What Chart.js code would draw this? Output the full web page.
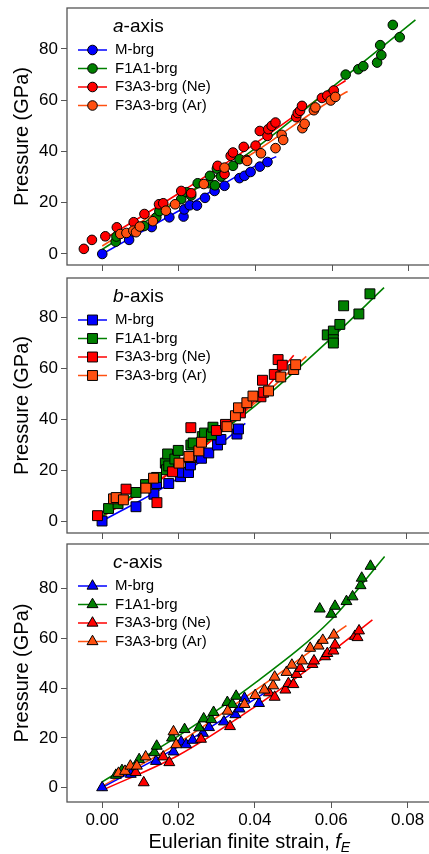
<!DOCTYPE html>
<html>
<head>
<meta charset="utf-8">
<script src="https://cdn.jsdelivr.net/npm/chart.js@4"></script>
<style>
body { margin: 0; width: 429px; height: 854px; overflow: hidden; background: #fff; position: relative; }
canvas { position: absolute; left: 0; }
</style>
</head>
<body>
<canvas id="panelA" width="445" height="272" style="top:0px"></canvas>
<canvas id="panelB" width="445" height="272" style="top:270px"></canvas>
<canvas id="panelC" width="445" height="318" style="top:536px"></canvas>
<script>
// series names and colours (same for every panel)
const seriesNames = ['M-brg', 'F1A1-brg', 'F3A3-brg (Ne)', 'F3A3-brg (Ar)'];
const seriesColors = ['#0000ff', '#008000', '#ff0000', '#ff5010'];
const xTicks = [0, 0.02, 0.04, 0.06, 0.08];
const yTicks = [0, 20, 40, 60, 80];

// a-axis: [f_E, P]
const aM = [[0,0],[0.0070,5.5],[0.0129,10.5],[0.0175,14.3],[0.0212,14.6],[0.0214,17.4],[0.0228,19.0],[0.0247,18.9],[0.0268,21.9],[0.0293,24.6],[0.0319,26.6],[0.0358,29.6],[0.0371,30.5],[0.0387,32.0],[0.0411,34.1],[0.0431,35.9]];
const aF1 = [[0.0035,4.8],[0.0037,6.8],[0.0109,10.9],[0.0141,14.3],[0.0149,16.7],[0.0206,21.4],[0.0220,24.1],[0.0232,22.8],[0.0249,27.6],[0.0279,27.6],[0.0281,30.5],[0.0294,26.8],[0.0299,33.3],[0.0310,30.2],[0.0341,34.4],[0.0358,37.0],[0.0635,70.0],[0.0668,72.1],[0.0681,73.3],[0.0717,74.7],[0.0728,77.6],[0.0725,81.5],[0.0758,89.4],[0.0776,84.6]];
const aNe = [[-0.0048,2.0],[-0.0027,5.5],[0.0008,6.9],[0.0038,10.4],[0.0082,12.4],[0.0110,15.6],[0.0148,19.4],[0.0159,19.8],[0.0206,24.6],[0.0232,23.7],[0.0301,34.4],[0.0319,31.2],[0.0335,38.3],[0.0341,39.6],[0.0369,41.8],[0.0376,36.7],[0.0400,42.3],[0.0411,48.0],[0.0431,46.1],[0.0433,48.7],[0.0442,50.0],[0.0452,51.3],[0.0506,53.4],[0.0510,55.0],[0.0516,55.9],[0.0521,57.8],[0.0573,60.9],[0.0587,61.8],[0.0604,63.8]];
const aAr = [[0.0047,7.8],[0.0063,8.2],[0.0081,9.1],[0.0088,8.5],[0.0098,10.7],[0.0132,12.8],[0.0166,16.9],[0.0190,19.4],[0.0265,27.3],[0.0319,33.7],[0.0378,36.3],[0.0414,39.3],[0.0452,41.3],[0.0468,46.5],[0.0472,44.5],[0.0522,49.1],[0.0528,50.8],[0.0552,56.1],[0.0556,57.2],[0.0596,59.9],[0.0608,61.3]];
const aFitM = [[0,0],[0.02,16.9],[0.04,34.4],[0.0454,38.0]];
const aFitF1 = [[0,1.8],[0.02,21.1],[0.04,41.3],[0.06,65.1],[0.0817,91.4]];
const aFitNe = [[0,5.3],[0.02,23.7],[0.04,43.2],[0.06,64.3],[0.0635,67.7]];
const aFitAr = [[0,3.1],[0.02,21.7],[0.04,40.0],[0.06,60.2],[0.064,63.4]];

// b-axis
const bM = [[0,0],[0.0089,5.6],[0.0136,10.5],[0.0143,14.7],[0.0175,14.7],[0.0206,17.4],[0.0211,19.1],[0.0227,19.0],[0.0232,22.0],[0.0261,24.6],[0.0280,26.7],[0.0303,29.8],[0.0312,32.0],[0.0354,34.1],[0.0358,36.1]];
const bF1 = [[0.0017,4.9],[0.0042,6.8],[0.0089,11.2],[0.0114,14.3],[0.0143,17.1],[0.0166,22.7],[0.0169,20.1],[0.0175,21.6],[0.0172,26.3],[0.0191,24.3],[0.0200,27.7],[0.0233,29.8],[0.0239,30.6],[0.0263,33.1],[0.0269,34.5],[0.0287,33.9],[0.0291,36.8],[0.0591,73.0],[0.0607,74.5],[0.0607,71.1],[0.0607,69.8],[0.0624,77.1],[0.0634,84.4],[0.0674,81.2],[0.0703,89.1]];
const bNe = [[-0.0012,2.1],[0.0063,12.5],[0.0144,7.2],[0.0185,19.3],[0.0231,24.9],[0.0233,36.6],[0.0300,35.5],[0.0324,37.9],[0.0363,42.4],[0.0417,48.7],[0.0424,50.5],[0.0421,55.2],[0.0452,57.5],[0.0462,63.3],[0.0473,61.1]];
const bAr = [[0.0030,8.7],[0.0037,9.2],[0.0056,8.3],[0.0115,12.9],[0.0135,16.8],[0.0202,22.7],[0.0228,25.3],[0.0254,27.5],[0.0261,30.9],[0.0328,37.0],[0.0350,41.3],[0.0358,44.4],[0.0380,46.4],[0.0396,49.0],[0.0437,51.0],[0.0469,56.5],[0.0503,59.4],[0.0508,61.3]];
const bFitM = [[0,0],[0.02,16.8],[0.0376,38.3]];
const bFitF1 = [[0,1.8],[0.02,23.0],[0.04,45.0],[0.06,71.5],[0.074,91.5]];
const bFitNe = [[0,1.6],[0.02,21.1],[0.04,47.1],[0.0503,65.0]];
const bFitAr = [[0,2.0],[0.02,21.4],[0.04,46.1],[0.0536,64.6]];

// c-axis
const cM = [[0,0],[0.0075,5.4],[0.0141,10.6],[0.0187,14.4],[0.0207,18.4],[0.0220,17.3],[0.0237,19.1],[0.0264,21.9],[0.0280,24.2],[0.0319,26.5],[0.0349,29.4],[0.0360,31.7],[0.0373,36.0],[0.0411,33.9]];
const cF1 = [[0.0036,5.0],[0.0052,6.9],[0.0097,11.3],[0.0137,14.1],[0.0143,16.7],[0.0183,20.0],[0.0216,23.4],[0.0254,24.1],[0.0266,27.7],[0.0286,27.4],[0.0292,30.3],[0.0328,34.3],[0.0341,33.5],[0.0351,36.8],[0.0570,71.9],[0.0600,69.8],[0.0610,73.0],[0.0640,74.9],[0.0656,76.8],[0.0677,81.3],[0.0680,84.3],[0.0703,89.1]];
const cNe = [[0.0088,6.1],[0.0109,2.0],[0.0160,12.4],[0.0176,10.1],[0.0259,19.5],[0.0335,24.6],[0.0437,38.2],[0.0452,36.4],[0.0480,39.3],[0.0488,41.9],[0.0501,41.5],[0.0509,45.6],[0.0519,48.0],[0.0551,49.6],[0.0555,51.0],[0.0584,52.7],[0.0590,54.0],[0.0606,55.0],[0.0610,57.4],[0.0662,60.9],[0.0669,60.4],[0.0673,63.1]];
const cAr = [[0.0043,5.8],[0.0060,6.6],[0.0074,8.7],[0.0091,8.7],[0.0114,12.4],[0.0187,22.5],[0.0194,17.3],[0.0329,30.8],[0.0373,33.5],[0.0401,37.1],[0.0425,39.3],[0.0448,41.0],[0.0452,44.5],[0.0483,46.4],[0.0497,49.3],[0.0524,51.0],[0.0545,56.1],[0.0567,57.0],[0.0578,59.3],[0.0607,61.4]];
const cFitM = [[0,0],[0.02,16.5],[0.0424,37.9]];
const cFitF1 = [[0,2.3],[0.02,20.8],[0.04,42.0],[0.06,67.5],[0.074,93.0]];
const cFitNe = [[0,-1.1],[0.02,13.0],[0.04,32.5],[0.06,54.5],[0.0708,67.5]];
const cFitAr = [[0,0.5],[0.02,18.0],[0.04,39.0],[0.06,60.8],[0.064,65.2]];

const FONT = '"Liberation Sans", Arial, sans-serif';
const FRAME = '#555';

function toXY(arr) {
    return arr.map(p => ({ x: p[0], y: p[1] }));
}

// box around the plot area
const framePlugin = {
    id: 'frame',
    afterDatasetsDraw(chart) {
        const a = chart.chartArea, ctx = chart.ctx;
        ctx.save();
        ctx.strokeStyle = FRAME;
        ctx.lineWidth = 1.3;
        ctx.strokeRect(a.left, a.top, a.right - a.left, a.bottom - a.top);
        ctx.restore();
    }
};

function drawMarker(ctx, style, r, x, y) {
    if (Chart.helpers && Chart.helpers.drawPoint) {
        Chart.helpers.drawPoint(ctx, { pointStyle: style, radius: r, borderWidth: 1, rotation: 0 }, x, y);
        return;
    }
    ctx.beginPath();
    ctx.arc(x, y, r, 0, Math.PI * 2);
    ctx.fill();
    ctx.stroke();
}

// legend with line + marker, title with italic letter
const axisLegendPlugin = {
    id: 'axisLegend',
    afterDraw(chart, args, opts) {
        const ctx = chart.ctx, a = chart.chartArea;
        const x0 = a.left, y0 = a.top;
        ctx.save();
        ctx.textBaseline = 'middle';
        ctx.textAlign = 'left';
        ctx.fillStyle = '#000';
        ctx.font = 'italic 19px ' + FONT;
        ctx.fillText(opts.letter, x0 + 46, y0 + 19);
        const w = ctx.measureText(opts.letter).width;
        ctx.font = '19px ' + FONT;
        ctx.fillText('-axis', x0 + 46 + w, y0 + 19);

        seriesNames.forEach((name, i) => {
            const y = y0 + 42 + i * 18.5;
            ctx.strokeStyle = seriesColors[i];
            ctx.lineWidth = 1.5;
            ctx.beginPath();
            ctx.moveTo(x0 + 11, y);
            ctx.lineTo(x0 + 40, y);
            ctx.stroke();
            ctx.fillStyle = seriesColors[i];
            ctx.strokeStyle = '#000';
            ctx.lineWidth = 1;
            drawMarker(ctx, opts.marker, opts.radius, x0 + 25.5, y);
            ctx.fillStyle = '#000';
            ctx.font = '15px ' + FONT;
            ctx.fillText(name, x0 + 48, y);
        });
        ctx.restore();
    }
};

// x title with italic f and subscript E
const xTitlePlugin = {
    id: 'xTitle',
    afterDraw(chart, args, opts) {
        if (!opts.show) return;
        const ctx = chart.ctx, a = chart.chartArea;
        const main = 'Eulerian finite strain, ';
        ctx.save();
        ctx.textBaseline = 'alphabetic';
        ctx.fillStyle = '#000';
        ctx.font = '20px ' + FONT;
        const w1 = ctx.measureText(main).width;
        ctx.font = 'italic 20px ' + FONT;
        const w2 = ctx.measureText('f').width;
        ctx.font = 'italic 14px ' + FONT;
        const w3 = ctx.measureText('E').width;
        const total = w1 + w2 + w3;
        let x = (a.left + a.right) / 2 - total / 2 - 3;
        const base = opts.baseline;
        ctx.font = '20px ' + FONT;
        ctx.fillText(main, x, base);
        x += w1;
        ctx.font = 'italic 20px ' + FONT;
        ctx.fillText('f', x, base);
        x += w2;
        ctx.font = 'italic 14px ' + FONT;
        ctx.fillText('E', x, base + 4);
        ctx.restore();
    }
};

function makePanel(id, cfg) {
    const series = [cfg.m, cfg.f1, cfg.ne, cfg.ar];
    const fits = [cfg.fitM, cfg.fitF1, cfg.fitNe, cfg.fitAr];
    const datasets = [];
    series.forEach((s, i) => {
        datasets.push({
            label: seriesNames[i],
            data: toXY(s),
            backgroundColor: seriesColors[i],
            borderColor: '#000',
            borderWidth: 1,
            pointStyle: cfg.marker,
            pointRadius: cfg.radius,
            pointHoverRadius: cfg.radius,
            showLine: false,
            order: 4 - i
        });
    });
    fits.forEach((s, i) => {
        datasets.push({
            label: seriesNames[i] + ' fit',
            data: toXY(s),
            borderColor: seriesColors[i],
            borderWidth: 1.6,
            pointRadius: 0,
            showLine: true,
            cubicInterpolationMode: 'monotone',
            order: 10
        });
    });

    const canvas = document.getElementById(id);
    const xAxisHeight = canvas.height - cfg.padTop - cfg.plotHeight;

    new Chart(canvas.getContext('2d'), {
        type: 'scatter',
        data: { datasets: datasets },
        options: {
            responsive: false,
            animation: false,
            events: [],
            layout: { padding: { top: cfg.padTop, right: 5, left: 0, bottom: 0 } },
            plugins: {
                legend: { display: false },
                tooltip: { enabled: false },
                axisLegend: { letter: cfg.letter, marker: cfg.marker, radius: cfg.radius },
                xTitle: { show: cfg.showX, baseline: canvas.height - 6 }
            },
            scales: {
                x: {
                    type: 'linear',
                    min: -0.0092,
                    max: 0.0879,
                    border: { display: false },
                    grid: { drawOnChartArea: false, drawTicks: true, tickLength: 6, color: FRAME },
                    afterBuildTicks: scale => { scale.ticks = xTicks.map(v => ({ value: v })); },
                    afterFit: scale => {
                        scale.height = xAxisHeight;
                        scale.paddingLeft = 0;
                        scale.paddingRight = 0;
                    },
                    ticks: {
                        display: cfg.showX,
                        padding: 2,
                        color: '#000',
                        font: { family: FONT, size: 17 },
                        maxRotation: 0,
                        callback: v => Number(v).toFixed(2)
                    }
                },
                y: {
                    type: 'linear',
                    min: cfg.yMin,
                    max: cfg.yMax,
                    border: { display: false },
                    grid: { drawOnChartArea: false, drawTicks: true, tickLength: 6, color: FRAME },
                    afterBuildTicks: scale => { scale.ticks = yTicks.map(v => ({ value: v })); },
                    afterFit: scale => {
                        scale.width = 67;
                        scale.paddingTop = 0;
                        scale.paddingBottom = 0;
                    },
                    ticks: {
                        padding: 3,
                        color: '#000',
                        font: { family: FONT, size: 17 }
                    },
                    title: {
                        display: true,
                        text: 'Pressure (GPa)',
                        color: '#000',
                        padding: { top: 10, bottom: 0 },
                        font: { family: FONT, size: 20 }
                    }
                }
            }
        },
        plugins: [framePlugin, axisLegendPlugin, xTitlePlugin]
    });
}

makePanel('panelA', {
    letter: 'a', marker: 'circle', radius: 4.8,
    m: aM, f1: aF1, ne: aNe, ar: aAr,
    fitM: aFitM, fitF1: aFitF1, fitNe: aFitNe, fitAr: aFitAr,
    yMin: -4.3, yMax: 96.0, padTop: 8, plotHeight: 257, showX: false
});
makePanel('panelB', {
    letter: 'b', marker: 'rect', radius: 7,
    m: bM, f1: bF1, ne: bNe, ar: bAr,
    fitM: bFitM, fitF1: bFitF1, fitNe: bFitNe, fitAr: bFitAr,
    yMin: -4.7, yMax: 95.3, padTop: 7, plotHeight: 256, showX: false
});
makePanel('panelC', {
    letter: 'c', marker: 'triangle', radius: 6.3,
    m: cM, f1: cF1, ne: cNe, ar: cAr,
    fitM: cFitM, fitF1: cFitF1, fitNe: cFitNe, fitAr: cFitAr,
    yMin: -5.8, yMax: 98.0, padTop: 8, plotHeight: 258, showX: true
});
</script>
</body>
</html>
